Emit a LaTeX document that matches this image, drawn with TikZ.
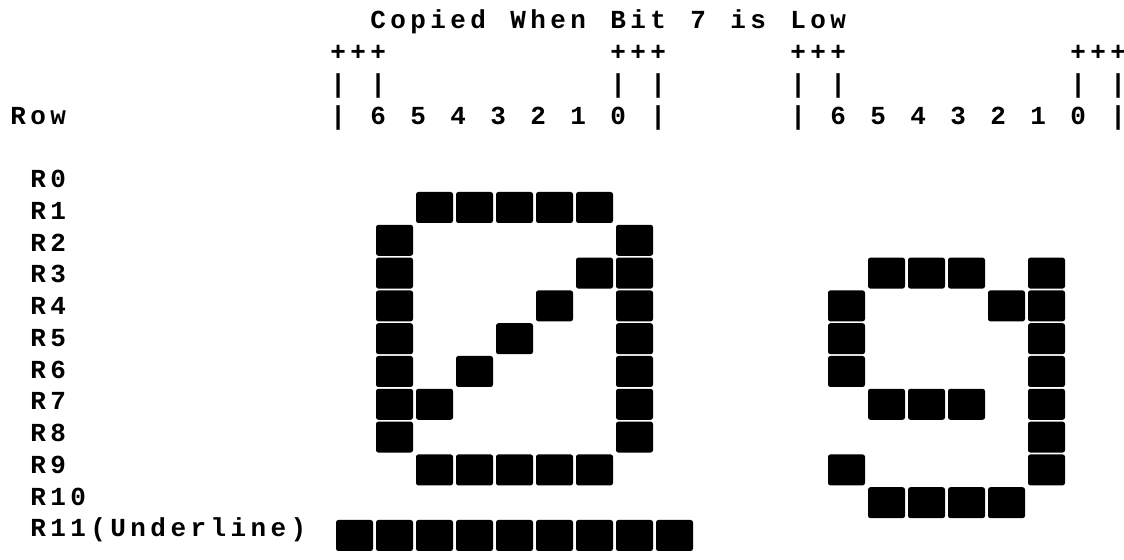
\documentclass[tikz,border=0pt]{standalone}
\usepackage{fontspec}
\setmonofont{Liberation Mono}[LetterSpace=17]
\usepackage{tikz}
\tikzset{
    x=0.5pt, y=-0.5pt, % one unit is one pixel of the chart, y runs down
    txt/.style={anchor=base west, inner sep=0pt, font=\ttfamily\bfseries\fontsize{13pt}{15pt}\selectfont}, % printer text
    dot/.style={fill=black, rounded corners=1.2pt}, % one dot of the matrix
}
% text cell: column and line of the listing
\newcommand{\cell}[2]{({10+20*(#1)}, {29+31.75*(#2)})}

\begin{document}
\begin{tikzpicture}
    \useasboundingbox (0,0) rectangle (1124,560);

    % heading
    \foreach \w/\c in {Copied/18, When/25, Bit/30, 7/34, is/36, Low/39}
        \node[txt] (head-\c) at \cell{\c}{0} {\w};
    \foreach \c in {16, 30, 39, 53}
        \node[txt] (plus-\c) at \cell{\c}{1} {+++};
    \foreach \c in {16, 18, 30, 32, 39, 41, 53, 55}
        \node[txt] (bar-\c) at \cell{\c}{2} {|};
    \node[txt] (row) at \cell{0}{3} {Row};
    \foreach \c in {16, 32, 39, 55}
        \node[txt] (edge-\c) at \cell{\c}{3} {|};
    \foreach \b in {0,...,6} {
        \node[txt] (bitl-\b) at \cell{30-2*\b}{3} {\b};
        \node[txt] (bitr-\b) at \cell{53-2*\b}{3} {\b};
    }

    % row labels
    \foreach \r in {0,...,10}
        \node[txt] (R\r) at \cell{1}{5+\r} {R\r};
    \node[txt] (R11) at \cell{1}{16} {R11(Underline)};

    % left character, bit 7 low
    \foreach \k/\cols in {1/{2,3,4,5,6}, 2/{1,7}, 3/{1,6,7}, 4/{1,5,7}, 5/{1,4,7},
                          6/{1,3,7}, 7/{1,2,7}, 8/{1,7}, 9/{2,3,4,5,6}, 11/{0,1,2,3,4,5,6,7,8}}
        \foreach \j in \cols
            \fill[dot] (336+40*\j, 159.2+32.8*\k) rectangle ++(37,31);

    % right character
    \foreach \k/\cols in {3/{1,2,3,5}, 4/{0,4,5}, 5/{0,5}, 6/{0,5}, 7/{1,2,3,5},
                          8/{5}, 9/{0,5}, 10/{1,2,3,4}}
        \foreach \j in \cols
            \fill[dot] (828+40*\j, 159.2+32.8*\k) rectangle ++(37,31);
\end{tikzpicture}
\end{document}
